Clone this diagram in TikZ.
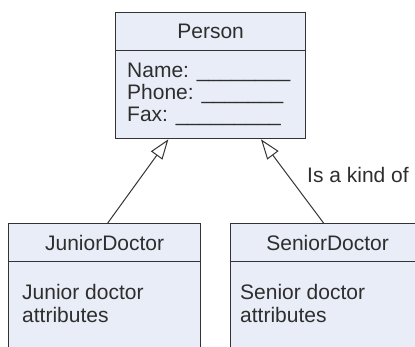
\documentclass[tikz,border=0pt]{standalone}
\usepackage{fontspec}
\setmainfont{Liberation Sans}
\usetikzlibrary{arrows.meta,calc}
\definecolor{boxfill}{HTML}{E9EDF7}
\definecolor{edge}{HTML}{333333}
\definecolor{txt}{HTML}{2E2E2E}
\begin{document}
\begin{tikzpicture}[x=1pt,y=-1pt,
  box/.style={draw=edge, fill=boxfill, line width=1.3pt, inner sep=0pt, anchor=north west},
  lbl/.style={text=txt, font=\fontsize{21}{22.5}\selectfont, inner sep=0pt},
  gen/.style={draw=edge, line width=1pt, -{Triangle[open, length=20pt, width=14pt, fill=white]}}]
\useasboundingbox (0,0) rectangle (415,347);
\clip (0,0) rectangle (415,347);
% Person
\node[box, minimum width=190pt, minimum height=38pt] (phead) at (115,12) {};
\node[box, minimum width=190pt, minimum height=88pt] (pbody) at (115,50) {};
\node[lbl] (ptitle) at (phead.center) {Person};
\node[lbl, anchor=base west] (pname) at (127,78) {Name: \_\_\_\_\_\_\_\_};
\node[lbl, anchor=base west] (pphone) at (127,100) {Phone: \_\_\_\_\_\_\_};
\node[lbl, anchor=base west] (pfax) at (127,122) {Fax: \_\_\_\_\_\_\_\_\_};
% JuniorDoctor
\node[box, minimum width=192pt, minimum height=38pt] (jhead) at (8,223) {};
\node[box, minimum width=192pt, minimum height=110pt] (jbody) at (8,261) {};
\node[lbl] (jtitle) at (jhead.center) {JuniorDoctor};
\node[lbl, anchor=base west] (jl1) at (22,300) {Junior doctor};
\node[lbl, anchor=base west] (jl2) at (22,322.5) {attributes};
% SeniorDoctor
\node[box, minimum width=194pt, minimum height=38pt] (shead) at (230,223) {};
\node[box, minimum width=194pt, minimum height=110pt] (sbody) at (230,261) {};
\node[lbl] (stitle) at (shead.center) {SeniorDoctor};
\node[lbl, anchor=base west] (sl1) at (240,300) {Senior doctor};
\node[lbl, anchor=base west] (sl2) at (240,322.5) {attributes};
% generalisation arrows
\draw[gen] ($(jhead.north west)!0.516!(jhead.north east)$) -- ($(pbody.south west)!0.279!(pbody.south east)$);
\draw[gen] ($(shead.north west)!0.479!(shead.north east)$) -- ($(pbody.south west)!0.763!(pbody.south east)$);
\node[lbl, anchor=base west] (kind) at (307,183) {Is a kind of};
\end{tikzpicture}
\end{document}
